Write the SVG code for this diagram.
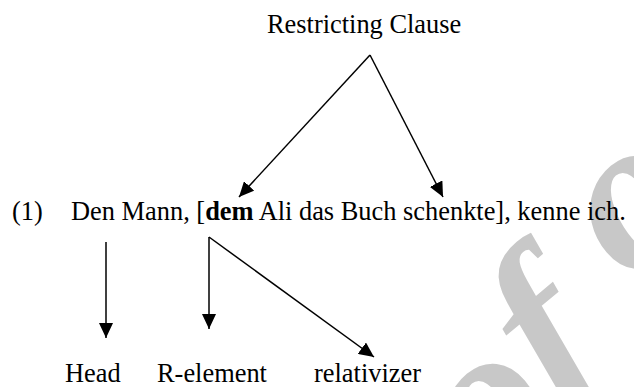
<svg xmlns="http://www.w3.org/2000/svg" width="634" height="387" viewBox="0 0 634 387">
<style>
  .t { font-family: "Liberation Serif", "Times New Roman", serif; font-size: 26.4px; fill: #000; }
  .b { font-weight: bold; }
  .wm { font-family: "Liberation Serif", serif; font-style: italic; font-weight: bold; font-size: 220px; fill: #c8c8c8; text-anchor: middle; }
  .c line { stroke: #000; stroke-width: 1.5; marker-end: url(#ah); }
</style>
<defs>
  <marker id="ah" markerUnits="userSpaceOnUse" markerWidth="15" markerHeight="14" refX="15" refY="7" orient="auto">
    <path d="M0,0 L15,7 L0,14 z" fill="#000"/>
  </marker>
</defs>
<rect width="634" height="387" fill="#fff"/>
<g id="watermark">
  <text class="wm" transform="translate(587,385) rotate(-40)">f</text>
  <text class="wm" transform="translate(528,458) rotate(-40)">o</text>
  <text class="wm" transform="translate(672,250) rotate(-40)">o</text>
</g>
<g id="title"><text class="t" x="267" y="33">Restricting Clause</text></g>
<g id="sentence">
  <text class="t" x="12" y="220">(1)</text>
  <text class="t" x="71" y="220">Den Mann, [<tspan class="b">dem</tspan> Ali das Buch schenkte], kenne ich.</text>
</g>
<g id="head"><text class="t" x="65" y="382">Head</text></g>
<g id="relement"><text class="t" x="157" y="382">R-element</text></g>
<g id="relativizer"><text class="t" x="314" y="382">relativizer</text></g>
<g id="connectors" class="c">
  <line x1="370" y1="55" x2="239" y2="197"/>
  <line x1="370" y1="55" x2="443" y2="197"/>
  <line x1="106" y1="242" x2="106" y2="338"/>
  <line x1="209" y1="237" x2="209" y2="329"/>
  <line x1="209" y1="237" x2="374" y2="357"/>
</g>
</svg>
